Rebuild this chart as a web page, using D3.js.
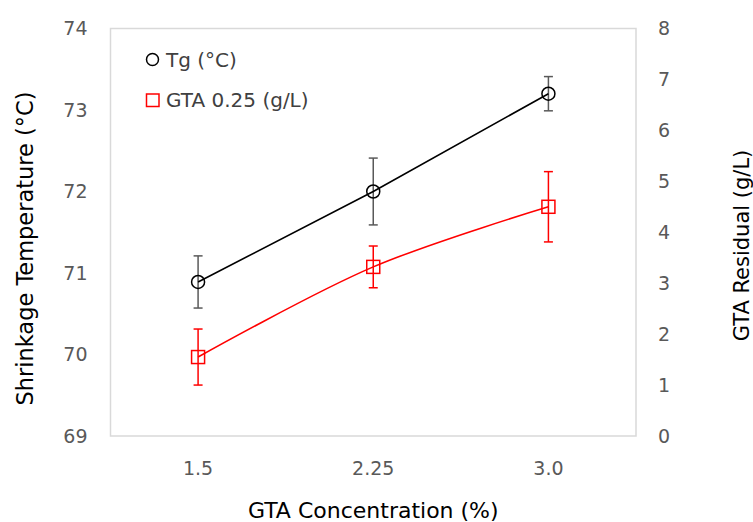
<!DOCTYPE html>
<html>
<head>
<meta charset="utf-8">
<script src="https://cdn.jsdelivr.net/npm/d3@7"></script>
<style>
  html, body { margin: 0; padding: 0; background: #fff; }
  svg { display: block; }
</style>
</head>
<body>
<svg id="chart" width="753" height="522"></svg>
<script>
// GTA concentration levels (%)
const categories = ["1.5", "2.25", "3.0"];

// Shrinkage temperature Tg (°C) with standard deviations
const tgValues = [70.89, 72.0, 73.2];
const tgErrors = [0.32, 0.41, 0.21];

// GTA residual (g/L) with standard deviations
const gtaValues = [1.55, 3.32, 4.5];
const gtaErrors = [0.55, 0.41, 0.69];

const leftTicks = [69, 70, 71, 72, 73, 74];
const rightTicks = [0, 1, 2, 3, 4, 5, 6, 7, 8];

const seriesNames = ["Tg (°C)", "GTA 0.25 (g/L)"];

const W = 753, H = 522;
const m = { left: 110.5, right: 117, top: 28.5, bottom: 86 };
const iw = W - m.left - m.right;
const ih = H - m.top - m.bottom;

const svg = d3.select("#chart");
const g = svg.append("g").attr("transform", `translate(${m.left},${m.top})`);

const x = d3.scaleBand().domain(categories).range([0, iw]).padding(0);
const yL = d3.scaleLinear().domain([69, 74]).range([ih, 0]);
const yR = d3.scaleLinear().domain([0, 8]).range([ih, 0]);
const cx = c => x(c) + x.bandwidth() / 2;

const FONT = "'DejaVu Sans', sans-serif";
const TICK_SIZE = 19;

// plot frame
g.append("rect")
  .attr("x", 0).attr("y", 0).attr("width", iw).attr("height", ih)
  .attr("fill", "none").attr("stroke", "#d9d9d9").attr("stroke-width", 1.5);

// left axis
const axL = g.append("g").call(d3.axisLeft(yL).tickValues(leftTicks)
  .tickFormat(d3.format("d")).tickSize(0).tickPadding(23));
axL.select(".domain").remove();
axL.selectAll("text").attr("font-family", FONT).attr("font-size", TICK_SIZE).attr("fill", "#595959");

// right axis
const axR = g.append("g").attr("transform", `translate(${iw},0)`)
  .call(d3.axisRight(yR).tickValues(rightTicks).tickFormat(d3.format("d")).tickSize(0).tickPadding(22));
axR.select(".domain").remove();
axR.selectAll("text").attr("font-family", FONT).attr("font-size", TICK_SIZE).attr("fill", "#595959");

// bottom axis
const axB = g.append("g").attr("transform", `translate(0,${ih})`)
  .call(d3.axisBottom(x).tickSize(0));
axB.select(".domain").remove();
axB.selectAll("text").attr("dy", null).attr("y", 39)
  .attr("font-family", FONT).attr("font-size", TICK_SIZE).attr("fill", "#595959");

// axis titles
svg.append("text")
  .attr("transform", `translate(33,${m.top + 220}) rotate(-90)`)
  .attr("text-anchor", "middle")
  .attr("font-family", FONT).attr("font-size", 22.5).attr("fill", "#000")
  .text("Shrinkage Temperature (°C)");
svg.append("text")
  .attr("transform", `translate(749,${m.top + 217}) rotate(-90)`)
  .attr("text-anchor", "middle")
  .attr("font-family", FONT).attr("font-size", 21).attr("fill", "#000")
  .text("GTA Residual (g/L)");
svg.append("text")
  .attr("x", m.left + iw / 2).attr("y", 518)
  .attr("text-anchor", "middle")
  .attr("font-family", FONT).attr("font-size", 22).attr("fill", "#000")
  .text("GTA Concentration (%)");

// series definitions
const series = [
  { vals: tgValues, errs: tgErrors, y: yL, color: "#000", errColor: "#595959",
    curve: d3.curveLinear, marker: "circle" },
  { vals: gtaValues, errs: gtaErrors, y: yR, color: "#ff0000", errColor: "#ff0000",
    curve: d3.curveCatmullRom.alpha(0.5), marker: "square" }
];

series.forEach(s => {
  const pts = categories.map((c, i) => ({ c, v: s.vals[i], e: s.errs[i] }));

  // error bars
  const eb = g.append("g").attr("stroke", s.errColor).attr("stroke-width", 1.5);
  pts.forEach(p => {
    const X = cx(p.c);
    eb.append("line").attr("x1", X).attr("x2", X).attr("y1", s.y(p.v + p.e)).attr("y2", s.y(p.v - p.e));
    eb.append("line").attr("x1", X - 4.5).attr("x2", X + 4.5).attr("y1", s.y(p.v + p.e)).attr("y2", s.y(p.v + p.e));
    eb.append("line").attr("x1", X - 4.5).attr("x2", X + 4.5).attr("y1", s.y(p.v - p.e)).attr("y2", s.y(p.v - p.e));
  });

  // line
  g.append("path").datum(pts)
    .attr("fill", "none").attr("stroke", s.color).attr("stroke-width", 1.6)
    .attr("d", d3.line().x(p => cx(p.c)).y(p => s.y(p.v)).curve(s.curve));

  // markers
  if (s.marker === "circle") {
    g.selectAll(null).data(pts).enter().append("circle")
      .attr("cx", p => cx(p.c)).attr("cy", p => s.y(p.v)).attr("r", 6.5)
      .attr("fill", "none").attr("stroke", s.color).attr("stroke-width", 1.5);
  } else {
    g.selectAll(null).data(pts).enter().append("rect")
      .attr("x", p => cx(p.c) - 6.5).attr("y", p => s.y(p.v) - 6.5)
      .attr("width", 13).attr("height", 13)
      .attr("fill", "none").attr("stroke", s.color).attr("stroke-width", 1.5);
  }
});

// legend
const lg = svg.append("g");
lg.append("circle").attr("cx", 152.5).attr("cy", 59.5).attr("r", 6)
  .attr("fill", "none").attr("stroke", "#000").attr("stroke-width", 1.5);
lg.append("rect").attr("x", 146.5).attr("y", 94).attr("width", 12.5).attr("height", 12.5)
  .attr("fill", "none").attr("stroke", "#ff0000").attr("stroke-width", 1.5);
lg.selectAll(null).data(seriesNames).enter().append("text")
  .attr("x", 166).attr("y", (d, i) => 66.5 + i * 40.5)
  .attr("font-family", FONT).attr("font-size", 20).attr("fill", "#404040")
  .text(d => d);
</script>
</body>
</html>
